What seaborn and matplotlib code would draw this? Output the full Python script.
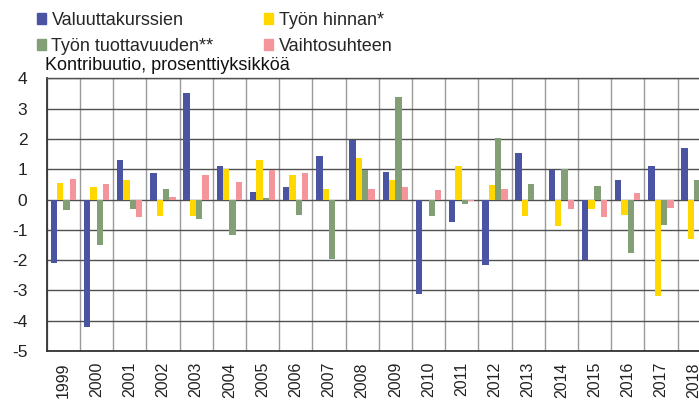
import matplotlib
matplotlib.use("Agg")
import matplotlib.pyplot as plt
import matplotlib.patches as mpatches
import seaborn as sns
import numpy as np
import pandas as pd

years = [str(y) for y in range(1999, 2019)]
valuuttakurssien = [-2.08, -4.2, 1.32, 0.88, 3.5, 1.09, 0.26, 0.42, 1.44, 1.98,
                    0.9, -3.13, -0.75, -2.16, 1.55, 0.97, -2.0, 0.63, 1.09, 1.71]
tyon_hinnan = [0.53, 0.4, 0.63, -0.54, -0.54, 1.02, 1.29, 0.8, 0.34, 1.38,
               0.65, -0.02, 1.09, 0.49, -0.54, -0.88, -0.33, -0.51, -3.19, -1.3]
tyon_tuottavuuden = [-0.35, -1.5, -0.3, 0.36, -0.64, -1.16, 0.06, -0.52, -1.98, 0.97,
                     3.38, -0.54, -0.14, 2.04, 0.52, 1.02, 0.44, -1.75, -0.84, 0.66]
vaihtosuhteen = [0.67, 0.5, -0.57, 0.08, 0.82, 0.59, 0.97, 0.88, 0.0, 0.34,
                 0.42, 0.31, -0.05, 0.36, 0.0, -0.31, -0.59, 0.23, -0.29, 0.3]

series_names = ["Valuuttakurssien", "Työn hinnan*", "Työn tuottavuuden**", "Vaihtosuhteen"]
colors = ["#4B53A3", "#FFD800", "#829F76", "#F4959B"]
ylabel_text = "Kontribuutio, prosenttiyksikköä"

df = pd.DataFrame({
    "year": years * 4,
    "value": valuuttakurssien + tyon_hinnan + tyon_tuottavuuden + vaihtosuhteen,
    "series": sum([[n] * len(years) for n in series_names], []),
})

sns.set_theme(style="white")
plt.rcParams["font.family"] = ["Liberation Sans", "DejaVu Sans"]
plt.rcParams["axes.unicode_minus"] = False

W, H = 699, 403
fig = plt.figure(figsize=(W / 100, H / 100), dpi=100)
left_px, right_px, top_px, bot_px = 46.7, 46.7 + 20 * 33.2, 78.3, 351
ax = fig.add_axes([left_px / W, 1 - bot_px / H, (right_px - left_px) / W, (bot_px - top_px) / H])

sns.barplot(data=df, x="year", y="value", hue="series", hue_order=series_names,
            palette=colors, width=0.76, ax=ax, saturation=1, legend=False,
            errorbar=None, zorder=3, linewidth=0, edgecolor="none")

ax.set_xlim(-0.5, len(years) - 0.5)
ax.set_ylim(-5, 4)
ax.set_yticks(range(-5, 5))
ax.set_xlabel("")
ax.set_ylabel("")
ax.set_xticks(np.arange(-0.5, len(years), 1.0), minor=True)
ax.grid(True, axis="y", color="#505050", linewidth=1.0, zorder=0)
ax.grid(True, axis="x", which="minor", color="#9a9a9a", linewidth=1.0, zorder=0)
ax.grid(False, axis="x", which="major")
ax.set_axisbelow(True)
ax.tick_params(axis="y", length=0, pad=14, labelsize=12.5, colors="#222222")
ax.tick_params(axis="x", which="both", length=0, pad=8, labelsize=11.5, colors="#222222")
plt.setp(ax.get_xticklabels(), rotation=90)
for s in ["left", "bottom"]:
    ax.spines[s].set_color("#333333")
    ax.spines[s].set_linewidth(1.3)
ax.spines["top"].set_color("#505050")
ax.spines["top"].set_linewidth(1.0)
ax.spines["right"].set_visible(False)

handles = [mpatches.Patch(color=c, label=n) for c, n in zip(colors, series_names)]
order = [0, 2, 1, 3]
fig.legend([handles[i] for i in order], [series_names[i] for i in order],
           ncol=2, loc="upper left", bbox_to_anchor=(37 / W, 1 - 12 / H),
           frameon=False, fontsize=13, handlelength=0.5, handleheight=0.5,
           handletextpad=0.3, columnspacing=2.8, labelspacing=0.5, borderpad=0,
           borderaxespad=0)

fig.text(45 / W, 1 - 66 / H, ylabel_text, fontsize=13, va="center", ha="left",
         color="#111111")

fig.savefig("out.png", dpi=100)
